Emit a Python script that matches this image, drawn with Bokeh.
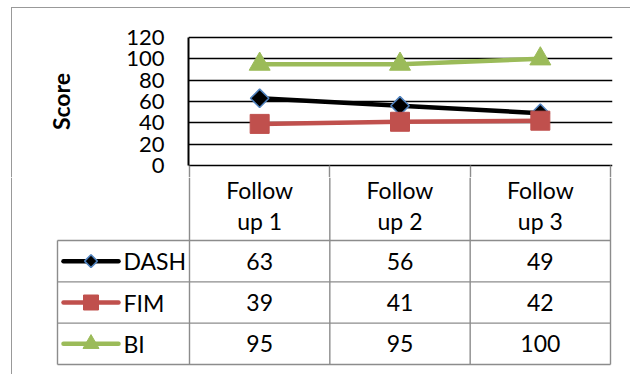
import math
from bokeh.plotting import figure
from bokeh.layouts import column
from bokeh.models import Range1d, FixedTicker
from bokeh.core.properties import value
from bokeh.embed import file_html
from bokeh.resources import INLINE

# ---------------- data ----------------
categories = ["Follow up 1", "Follow up 2", "Follow up 3"]
series_names = ["DASH", "FIM", "BI"]
dash_scores = [63, 56, 49]
fim_scores = [39, 41, 42]
bi_scores = [95, 95, 100]
y_ticks = [0, 20, 40, 60, 80, 100, 120]
axis_title = "Score"

series_values = [dash_scores, fim_scores, bi_scores]
# header cells wrap after the first word, as in the reference
header_line1 = [c.split(" ", 1)[0] for c in categories]
header_line2 = [c.split(" ", 1)[1] for c in categories]

# ---------------- layout constants (page pixels) ----------------
FONT = "Lato"
W, H = 630, 374
PLOT_L, PLOT_R = 189, 610          # category columns span
PLOT_T, PLOT_B = 37, 165           # 120 .. 0
FRAME_L, FRAME_R = 188, 612
FRAME_T, FRAME_B = 35, 167
SPLIT = 177                        # chart canvas ends / table canvas starts
HEAD_BOT, TABLE_BOT = 240, 364
LEG_L = 57
GRID_GRAY = "#8c8c8c"
BORDER_GRAY = "#999999"

n = len(categories)
col_w = (PLOT_R - PLOT_L) / n
k = (PLOT_B - PLOT_T) / (y_ticks[-1] - y_ticks[0])   # px per score unit


def px_to_val(py):
    return (PLOT_B - py) / k


series_style = {
    "DASH": dict(color="black", marker="square", angle=math.pi / 4, size=13, key_size=9,
                 fill="black", outline="#4F81BD", outline_w=1.6),
    "FIM": dict(color="#C0504D", marker="square", angle=0, size=19, key_size=15,
                fill="#C0504D", outline="#C0504D", outline_w=1),
    "BI": dict(color="#9BBB59", marker="triangle", angle=0, size=21, key_size=16,
               fill="#9BBB59", outline="#9BBB59", outline_w=1),
}

# chart-object border (top & left edges), drawn by CSS behind the transparent canvas border
border_css = {
    "background-color": "white",
    "background-image": f"linear-gradient({BORDER_GRAY}, {BORDER_GRAY}), "
                        f"linear-gradient({BORDER_GRAY}, {BORDER_GRAY})",
    "background-size": f"{W - 11}px 1px, 1px {SPLIT}px",
    "background-position": "11px 7px, 11px 7px",
    "background-repeat": "no-repeat",
}

# ---------------- chart (top canvas) ----------------
p = figure(width=W, height=SPLIT,
           x_range=Range1d(-(PLOT_L - FRAME_L) / col_w, n + (FRAME_R - PLOT_R) / col_w),
           y_range=Range1d(px_to_val(FRAME_B), px_to_val(FRAME_T)),
           output_backend="svg", toolbar_location=None,
           min_border_left=FRAME_L, min_border_right=W - FRAME_R,
           min_border_top=FRAME_T, min_border_bottom=SPLIT - FRAME_B,
           styles=border_css)
p.frame_align = False
p.outline_line_color = None
p.background_fill_color = "white"
p.border_fill_color = None

ax = p.yaxis[0]
ax.ticker = FixedTicker(ticks=y_ticks)
ax.bounds = (y_ticks[0], y_ticks[-1])
ax.major_tick_out = 0
ax.major_tick_in = 0
ax.minor_tick_out = 0
ax.minor_tick_in = 0
ax.axis_line_color = "black"
ax.axis_line_width = 2
ax.major_label_text_font = FONT
ax.major_label_text_font_size = "22px"
ax.major_label_text_color = "black"
ax.major_label_standoff = 24
ax.axis_label = axis_title
ax.axis_label_text_font = FONT
ax.axis_label_text_font_style = "bold"
ax.axis_label_text_font_size = "23px"
ax.axis_label_text_color = "black"
ax.axis_label_standoff = 48

# category axis: only its boundary (minor) ticks show, as the top of the header-cell borders
xax = p.xaxis[0]
xax.ticker = FixedTicker(ticks=[], minor_ticks=list(range(n + 1)))
xax.axis_line_color = None
xax.major_tick_in = 0
xax.major_tick_out = 0
xax.minor_tick_in = 2
xax.minor_tick_out = SPLIT - FRAME_B
xax.minor_tick_line_color = GRID_GRAY
xax.minor_tick_line_width = 1.4
xax.major_label_standoff = 0
p.xgrid.visible = False

p.ygrid.grid_line_color = "black"
p.ygrid.grid_line_width = 1.5

x_pos = [i + 0.5 for i in range(n)]
for name, vals in zip(series_names, series_values):
    st = series_style[name]
    p.line(x_pos, vals, line_color=st["color"], line_width=4.5, line_join="round")
    p.scatter(x_pos, vals, marker=st["marker"], size=st["size"], angle=st["angle"],
              fill_color=st["fill"], line_color=st["outline"], line_width=st["outline_w"])

# ---------------- data table (bottom canvas) ----------------
t = figure(width=W, height=H - SPLIT,
           x_range=Range1d(0, W), y_range=Range1d(H, SPLIT),
           x_axis_type=None, y_axis_type=None,
           output_backend="svg", toolbar_location=None,
           min_border=0, min_border_left=0, min_border_right=0,
           min_border_top=0, min_border_bottom=0)
t.frame_align = False
t.outline_line_color = None
t.background_fill_color = "white"
t.border_fill_color = "white"

col_edges = [PLOT_L + i * col_w for i in range(n + 1)]
col_centers = [PLOT_L + (i + 0.5) * col_w for i in range(n)]
row_h = (TABLE_BOT - HEAD_BOT) / len(series_names)
row_edges = [HEAD_BOT + r * row_h for r in range(len(series_names) + 1)]
row_centers = [HEAD_BOT + (r + 0.5) * row_h for r in range(len(series_names))]

# outer border continuation (left)
t.segment(x0=[11], y0=[SPLIT], x1=[11], y1=[H], line_color=BORDER_GRAY, line_width=1)

# table grid
t.segment(x0=col_edges, y0=[SPLIT] * len(col_edges), x1=col_edges, y1=[TABLE_BOT] * len(col_edges),
          line_color=GRID_GRAY, line_width=1.4)
t.segment(x0=[LEG_L], y0=[HEAD_BOT], x1=[LEG_L], y1=[TABLE_BOT], line_color=GRID_GRAY, line_width=1.4)
t.segment(x0=[LEG_L] * len(row_edges), y0=row_edges, x1=[PLOT_R] * len(row_edges), y1=row_edges,
          line_color=GRID_GRAY, line_width=1.4)

# header texts
t.text(x=col_centers, y=[189] * n, text=header_line1, text_font=value(FONT),
       text_font_size="23px", text_color="black", text_align="center", text_baseline="middle")
t.text(x=col_centers, y=[220] * n, text=header_line2, text_font=value(FONT),
       text_font_size="23px", text_color="black", text_align="center", text_baseline="middle")

for r, (name, vals) in enumerate(zip(series_names, series_values)):
    st = series_style[name]
    yc = row_centers[r]
    t.segment(x0=[63], y0=[yc], x1=[118], y1=[yc], line_color=st["color"], line_width=4.5,
              line_cap="round")
    t.scatter(x=[90.5], y=[yc], marker=st["marker"], size=st["key_size"], angle=-st["angle"],
              fill_color=st["fill"], line_color=st["outline"], line_width=st["outline_w"])
    t.text(x=[123], y=[yc], text=[name], text_font=value(FONT), text_font_size="23px",
           text_color="black", text_align="left", text_baseline="middle")
    t.text(x=col_centers, y=[yc] * n, text=[str(v) for v in vals], text_font=value(FONT),
           text_font_size="23px", text_color="black", text_align="center", text_baseline="middle")

layout = column(p, t, spacing=0)
open("out.html", "w").write(file_html(layout, INLINE))
